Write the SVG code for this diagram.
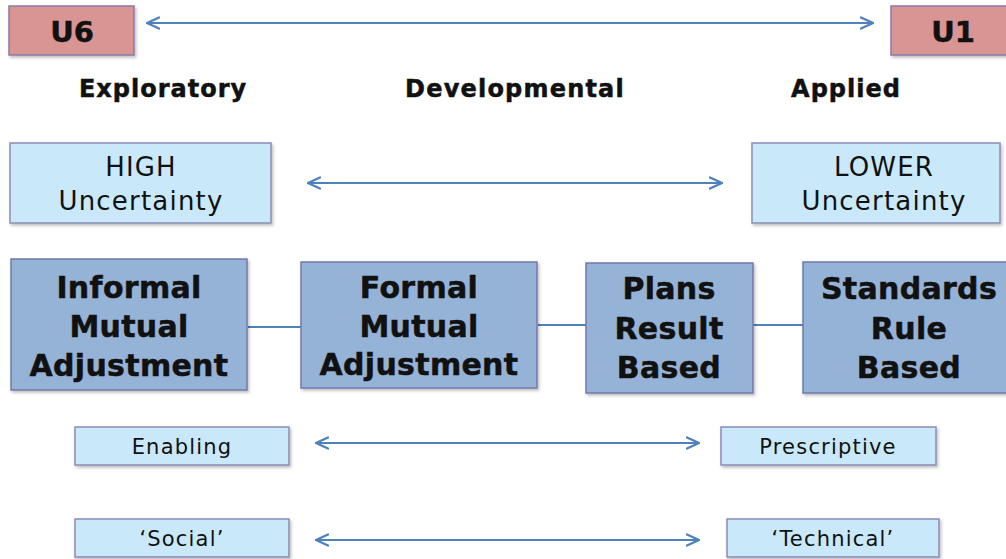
<svg xmlns="http://www.w3.org/2000/svg" width="1006" height="559" viewBox="0 0 1006 559">
  <style>
    .u { fill: #d99594; stroke: #8a7aa6; stroke-width: 1.5; }
    .lite { fill: #c9e9fb; stroke: #8c8cb4; stroke-width: 1.5; }
    .big { fill: #95b3d7; stroke: #7478ac; stroke-width: 1.5; }
    .t { font-family: "DejaVu Sans", Verdana, sans-serif; fill: #111; text-anchor: middle; }
    .b { font-weight: bold; stroke: #111; stroke-width: 0.5; }
    .link { stroke: #4f81bd; stroke-width: 2; fill: none; }
    .arr { stroke: #4f81bd; stroke-width: 2.2; fill: none; marker-start: url(#head); marker-end: url(#head); }
  </style>
  <defs>
    <marker id="head" viewBox="0 0 14 14" refX="13" refY="7" markerWidth="14" markerHeight="14" markerUnits="userSpaceOnUse" orient="auto-start-reverse">
      <path d="M1,1.5 L13,7 L1,12.5" fill="none" stroke="#4f81bd" stroke-width="2.4" stroke-linecap="round" stroke-linejoin="round"/>
    </marker>
    <filter id="sh" x="-5%" y="-5%" width="112%" height="120%">
      <feDropShadow dx="1.5" dy="2" stdDeviation="1.5" flood-color="#000" flood-opacity="0.25"/>
    </filter>
  </defs>

  <!-- connectors -->
  <g id="connectors">
    <line class="arr" x1="147" y1="23" x2="873" y2="23"/>
    <line class="arr" x1="308" y1="183" x2="722" y2="183"/>
    <line class="link" x1="248" y1="327" x2="301" y2="327"/>
    <line class="link" x1="538" y1="325" x2="586" y2="325"/>
    <line class="link" x1="753" y1="325" x2="803" y2="325"/>
    <line class="arr" x1="316" y1="443" x2="699" y2="443"/>
    <line class="arr" x1="316" y1="540" x2="699" y2="540"/>
  </g>

  <!-- scale ends -->
  <g id="u6">
    <rect class="u" x="9" y="6" width="125" height="49" filter="url(#sh)"/>
    <text class="t b" x="72" y="42" font-size="29">U6</text>
  </g>
  <g id="u1">
    <rect class="u" x="891" y="6" width="125" height="49" filter="url(#sh)"/>
    <text class="t b" x="953" y="42" font-size="29">U1</text>
  </g>

  <!-- column headings -->
  <g id="headings">
    <text class="t b" x="163" y="97" font-size="24" letter-spacing="1">Exploratory</text>
    <text class="t b" x="515" y="97" font-size="24" letter-spacing="1.2">Developmental</text>
    <text class="t b" x="846" y="97" font-size="24" letter-spacing="1">Applied</text>
  </g>

  <!-- uncertainty -->
  <g id="high">
    <rect class="lite" x="10" y="143" width="261" height="80" filter="url(#sh)"/>
    <text class="t" x="141" y="176" font-size="26" letter-spacing="1.2">HIGH</text>
    <text class="t" x="141" y="210" font-size="26" letter-spacing="1.2">Uncertainty</text>
  </g>
  <g id="lower">
    <rect class="lite" x="752" y="143" width="248" height="80" filter="url(#sh)"/>
    <text class="t" x="884" y="176" font-size="26" letter-spacing="1.2">LOWER</text>
    <text class="t" x="884" y="210" font-size="26" letter-spacing="1.2">Uncertainty</text>
  </g>

  <!-- coordination mechanisms -->
  <g id="informal">
    <rect class="big" x="11" y="259" width="236" height="131" filter="url(#sh)"/>
    <text class="t b" x="129" y="298" font-size="30" letter-spacing="0.3">Informal</text>
    <text class="t b" x="129" y="337" font-size="30" letter-spacing="0.3">Mutual</text>
    <text class="t b" x="129" y="376" font-size="30" letter-spacing="0.3">Adjustment</text>
  </g>
  <g id="formal">
    <rect class="big" x="301" y="262" width="236" height="126" filter="url(#sh)"/>
    <text class="t b" x="419" y="298" font-size="30" letter-spacing="0.3">Formal</text>
    <text class="t b" x="419" y="337" font-size="30" letter-spacing="0.3">Mutual</text>
    <text class="t b" x="419" y="375" font-size="30" letter-spacing="0.3">Adjustment</text>
  </g>
  <g id="plans">
    <rect class="big" x="586" y="263" width="167" height="130" filter="url(#sh)"/>
    <text class="t b" x="669" y="299" font-size="30" letter-spacing="0.3">Plans</text>
    <text class="t b" x="669" y="339" font-size="30" letter-spacing="0.3">Result</text>
    <text class="t b" x="669" y="378" font-size="30" letter-spacing="0.3">Based</text>
  </g>
  <g id="standards">
    <rect class="big" x="803" y="262" width="215" height="131" filter="url(#sh)"/>
    <text class="t b" x="909" y="299" font-size="30" letter-spacing="0.3">Standards</text>
    <text class="t b" x="909" y="339" font-size="30" letter-spacing="0.3">Rule</text>
    <text class="t b" x="909" y="378" font-size="30" letter-spacing="0.3">Based</text>
  </g>

  <!-- character of control -->
  <g id="enabling">
    <rect class="lite" x="75" y="427" width="214" height="38" filter="url(#sh)"/>
    <text class="t" x="182" y="454" font-size="21" letter-spacing="1.2">Enabling</text>
  </g>
  <g id="prescriptive">
    <rect class="lite" x="721" y="427" width="215" height="38" filter="url(#sh)"/>
    <text class="t" x="828" y="454" font-size="21" letter-spacing="1.2">Prescriptive</text>
  </g>
  <g id="social">
    <rect class="lite" x="75" y="519" width="214" height="38" filter="url(#sh)"/>
    <text class="t" x="182" y="546" font-size="21" letter-spacing="1.2">‘Social’</text>
  </g>
  <g id="technical">
    <rect class="lite" x="727" y="519" width="212" height="38" filter="url(#sh)"/>
    <text class="t" x="833" y="546" font-size="21" letter-spacing="1.2">‘Technical’</text>
  </g>
</svg>
